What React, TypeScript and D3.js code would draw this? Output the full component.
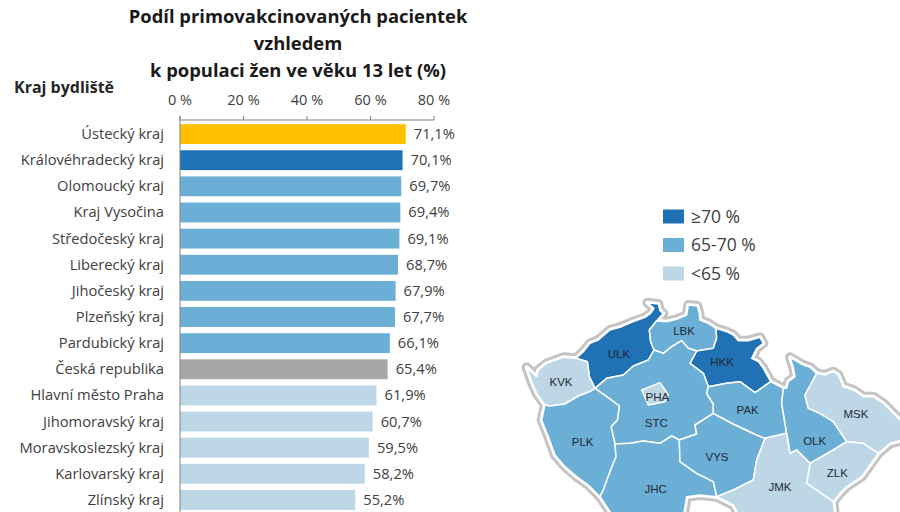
import React from "react";
import * as d3 from "d3";

const categories = ["Ústecký kraj","Královéhradecký kraj","Olomoucký kraj","Kraj Vysočina","Středočeský kraj","Liberecký kraj","Jihočeský kraj","Plzeňský kraj","Pardubický kraj","Česká republika","Hlavní město Praha","Jihomoravský kraj","Moravskoslezský kraj","Karlovarský kraj","Zlínský kraj"];
const values = [71.1,70.1,69.7,69.4,69.1,68.7,67.9,67.7,66.1,65.4,61.9,60.7,59.5,58.2,55.2];
const barColors = ["#FFC000","#2171B5","#6BAED6","#6BAED6","#6BAED6","#6BAED6","#6BAED6","#6BAED6","#6BAED6","#A6A6A6","#BDD7E7","#BDD7E7","#BDD7E7","#BDD7E7","#BDD7E7"];
const ticks = [0,20,40,60,80];
const titleLines = ["Podíl primovakcinovaných pacientek","vzhledem","k populaci žen ve věku 13 let (%)"];
const legendLabels = ["≥70 %","65-70 %","<65 %"];
const legendColors = ["#2171B5","#6BAED6","#BDD7E7"];

type Pt = [number, number];
// Border chains in map units, shared between neighbouring regions
const ulkOuter: Pt[] = [[228,235],[250,215],[270,190],[295,180],[330,150],[365,140],[400,125],[435,112],[452,100],[462,85],[442,68],[475,72],[480,92],[490,100],[470,122]];
const lbkOuter: Pt[] = [[470,122],[500,125],[530,118],[560,105],[565,75],[592,78],[598,100],[600,120],[625,130],[648,145]];
const hkkOuter: Pt[] = [[648,145],[680,155],[700,165],[715,182],[745,182],[780,172],[790,190],[770,205],[755,235],[775,245],[790,265],[812,305]];
const pakOuter: Pt[] = [[812,305],[850,325]];
const olkOuter: Pt[] = [[950,280],[930,262],[910,255],[870,232],[880,262],[885,290],[865,305],[860,325],[850,325]];
const mskOuter: Pt[] = [[950,280],[975,285],[1000,275],[1015,285],[1030,320],[1060,330],[1090,350],[1120,350],[1150,370],[1180,400],[1210,430],[1210,480],[1170,490],[1135,520]];
const zlkOuter: Pt[] = [[1135,520],[1110,555],[1085,590],[1040,620],[1020,640],[1000,665]];
const jmkOuter: Pt[] = [[1000,665],[1005,710],[720,710],[700,675],[650,650]];
const jhcOuter: Pt[] = [[650,650],[600,645],[560,650],[550,710],[340,710],[300,650]];
const plkOuter: Pt[] = [[300,650],[265,615],[230,590],[195,560],[165,525],[145,470],[125,420],[135,375]];
const kvkOuter: Pt[] = [[135,375],[110,340],[95,305],[80,262],[110,290],[115,270],[140,250],[190,232],[228,235]];
const ulkLbk: Pt[] = [[470,122],[448,150],[452,185],[462,210]];
const lbkStc: Pt[] = [[462,210],[490,220],[515,200],[545,182],[565,205],[590,213]];
const lbkHkk: Pt[] = [[590,213],[640,205],[650,175],[648,145]];
const ulkStc: Pt[] = [[462,210],[445,240],[400,258],[370,285],[320,295],[285,325]];
const ulkKvk: Pt[] = [[285,325],[268,290],[262,245],[228,235]];
const kvkPlk: Pt[] = [[285,325],[270,335],[235,348],[195,372],[150,378],[135,375]];
const stcPlk: Pt[] = [[285,325],[320,350],[358,378],[352,420],[333,440],[345,492]];
const plkJhc: Pt[] = [[345,492],[348,530],[330,575],[310,630],[300,650]];
const stcJhc: Pt[] = [[345,492],[390,490],[430,483],[480,490],[515,468],[538,480]];
const stcVys: Pt[] = [[538,480],[590,462],[585,435],[640,400]];
const pakStc: Pt[] = [[640,400],[640,372],[620,340],[625,320]];
const stcHkk: Pt[] = [[590,213],[570,250],[610,280],[625,320]];
const hkkPak: Pt[] = [[625,320],[680,310],[720,305],[765,338],[812,305]];
const pakVys: Pt[] = [[640,400],[700,432],[770,465],[795,475]];
const vysJhc: Pt[] = [[538,480],[540,545],[590,580],[640,605],[650,650]];
const vysJmk: Pt[] = [[795,475],[770,540],[760,600],[700,630],[650,650]];
const pakOlk: Pt[] = [[850,325],[845,370],[860,460]];
const pakJmk: Pt[] = [[860,460],[795,475]];
const olkJmk: Pt[] = [[860,460],[870,520],[890,510],[930,550]];
const olkZlk: Pt[] = [[930,550],[1000,510],[1040,485]];
const olkMsk: Pt[] = [[1040,485],[1000,425],[960,400],[925,385],[915,345],[950,280]];
const zlkJmk: Pt[] = [[930,550],[920,610],[1000,665]];
const mskZlk: Pt[] = [[1040,485],[1090,490],[1135,520]];
const pragueRing: Pt[] = [[425,330],[480,308],[505,345],[495,365],[445,375]];

const rev = (c: Pt[]) => [...c].reverse();
const regionNames = ["ULK","LBK","HKK","KVK","STC","PLK","JHC","VYS","PAK","OLK","MSK","ZLK","JMK","PHA"];
const regionColors = ["#2171B5","#6BAED6","#2171B5","#BDD7E7","#6BAED6","#6BAED6","#6BAED6","#6BAED6","#6BAED6","#6BAED6","#BDD7E7","#BDD7E7","#BDD7E7","#BDD7E7"];
const regionLabelAt: Pt[] = [[357,222],[552,153],[666,245],[183,306],[469,428],[248,485],[467,628],[651,530],[743,390],[944,483],[1068,403],[1012,578],[840,622],[472,351]];
const regionShapes: Pt[][] = [
  [...ulkOuter, ...ulkLbk, ...ulkStc, ...ulkKvk],
  [...lbkOuter, ...rev(lbkHkk), ...rev(lbkStc), ...rev(ulkLbk)],
  [...hkkOuter, ...rev(hkkPak), ...rev(stcHkk), ...lbkHkk],
  [...kvkOuter, ...rev(ulkKvk), ...kvkPlk],
  [...lbkStc, ...stcHkk, ...rev(pakStc), ...rev(stcVys), ...rev(stcJhc), ...rev(stcPlk), ...rev(ulkStc)],
  [...rev(kvkPlk), ...stcPlk, ...plkJhc, ...plkOuter],
  [...stcJhc, ...vysJhc, ...jhcOuter, ...rev(plkJhc)],
  [...stcVys, ...pakVys, ...vysJmk, ...rev(vysJhc)],
  [...pakStc, ...hkkPak, ...pakOuter, ...pakOlk, ...pakJmk, ...rev(pakVys)],
  [...rev(pakOlk), ...rev(olkOuter), ...rev(olkMsk), ...rev(olkZlk), ...rev(olkJmk)],
  [...mskOuter, ...rev(mskZlk), ...olkMsk],
  [...olkZlk, ...mskZlk, ...zlkOuter, ...rev(zlkJmk)],
  [...rev(pakJmk), ...olkJmk, ...zlkJmk, ...jmkOuter, ...rev(vysJmk)],
  pragueRing,
];

const sans = "'Open Sans', sans-serif";
const textCol = "#404040";

export default function App() {
  const x = d3.scaleLinear().domain([0, 80]).range([180, 434]);
  const y = d3.scaleBand<string>().domain(categories).range([121, 513]).paddingInner(0.24).paddingOuter(0.12);
  const mx = d3.scaleLinear().domain([0, 1200]).range([500, 900]);
  const my = d3.scaleLinear().domain([0, 696]).range([280, 512]);
  const line = d3.line<Pt>().x(d => mx(d[0])).y(d => my(d[1])).curve(d3.curveLinearClosed);
  const legendY = d3.scalePoint<string>().domain(legendLabels).range([216.5, 273.5]);
  const paths = regionShapes.map(s => line(s) as string);
  return (
    <svg width={900} height={512} style={{ position: "absolute", left: 0, top: 0, background: "#fff" }} fontFamily={sans}>
      {titleLines.map((t, i) => (
        <text key={t} x={298} y={[23, 50, 77][i]} textAnchor="middle" fontSize={18.4} fontWeight={700} fill="#1a1a1a">{t}</text>
      ))}
      <text x={14} y={93} fontSize={16} fontWeight={700} fill="#262626">Kraj bydliště</text>
      {ticks.map(t => (
        <g key={t}>
          <line x1={x(t)} x2={x(t)} y1={116} y2={120} stroke="#808080" />
          <text x={x(t)} y={105} textAnchor="middle" fontSize={14.5} fill={textCol}>{t} %</text>
        </g>
      ))}
      <line x1={180} x2={434} y1={120} y2={120} stroke="#808080" />
      {categories.map((c, i) => {
        const by = y(c) as number;
        const cy = by + y.bandwidth() / 2;
        return (
          <g key={c}>
            <rect x={x(0)} y={by} width={x(values[i]) - x(0)} height={y.bandwidth()} fill={barColors[i]} />
            <text x={164} y={cy + 5} textAnchor="end" fontSize={14.7} fill={textCol}>{c}</text>
            <text x={x(values[i]) + 8} y={cy + 5} fontSize={14.7} fill={textCol}>{values[i].toFixed(1).replace(".", ",")}%</text>
          </g>
        );
      })}
      <line x1={180} x2={180} y1={116} y2={512} stroke="#808080" />
      {legendLabels.map((l, i) => (
        <g key={l}>
          <rect x={663} y={(legendY(l) as number) - 7} width={21} height={14} fill={legendColors[i]} />
          <text x={691} y={(legendY(l) as number) + 6} fontSize={17.5} fill={textCol}>{l}</text>
        </g>
      ))}
      {paths.map((d, i) => <path key={"g" + i} d={d} fill="#c4c4c4" stroke="#c4c4c4" strokeWidth={10} strokeLinejoin="round" />)}
      {paths.map((d, i) => <path key={"w" + i} d={d} fill="#fff" stroke="#fff" strokeWidth={4} strokeLinejoin="round" />)}
      {paths.map((d, i) => <path key={regionNames[i]} d={d} fill={regionColors[i]} stroke="#fff" strokeWidth={1.5} strokeLinejoin="round" />)}
      {regionNames.map((n, i) => (
        <text key={"t" + n} x={mx(regionLabelAt[i][0])} y={my(regionLabelAt[i][1]) + 4} textAnchor="middle" fontSize={11.5} fontFamily="'Liberation Sans', sans-serif" fill="#1f2a33">{n}</text>
      ))}
    </svg>
  );
}
